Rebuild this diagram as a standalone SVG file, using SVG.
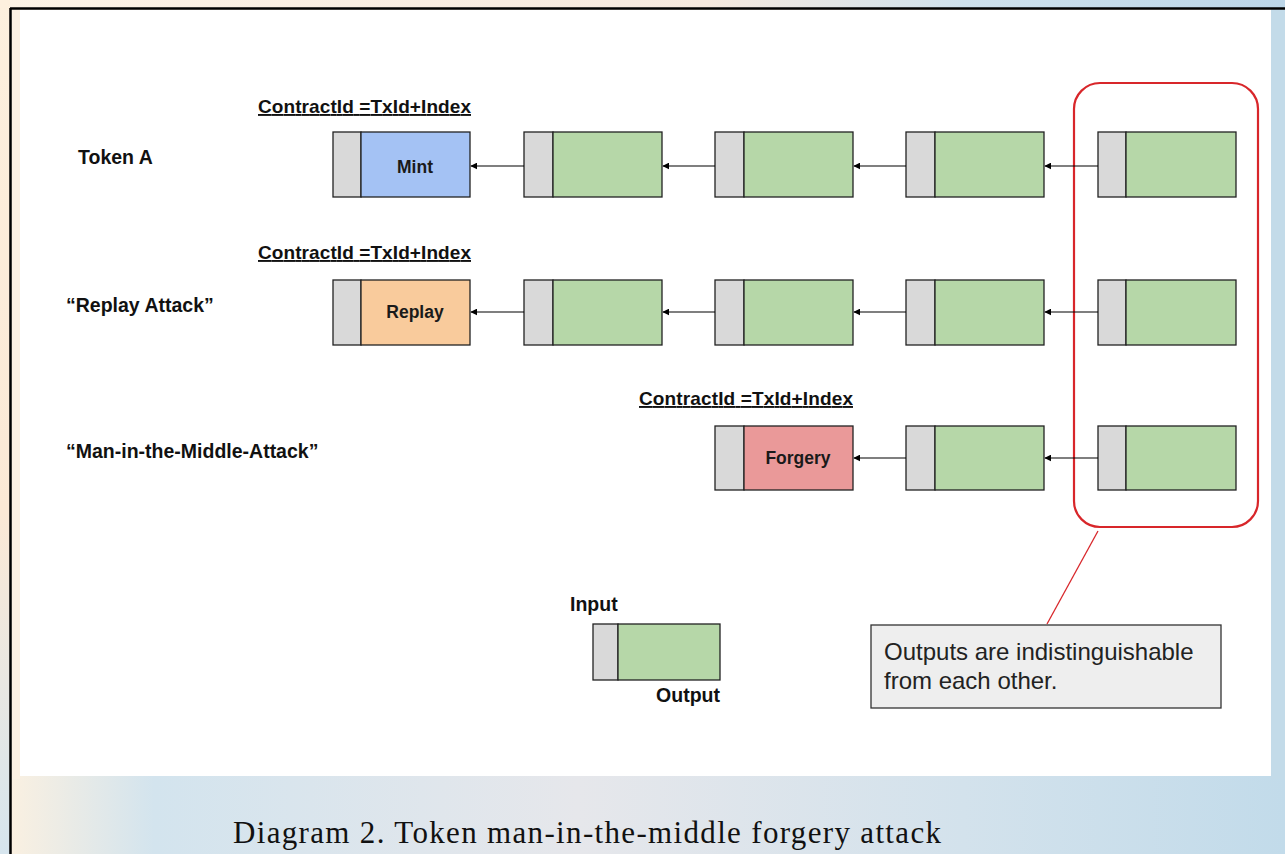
<svg xmlns="http://www.w3.org/2000/svg" width="1285" height="854" viewBox="0 0 1285 854">
  <defs>
    <linearGradient id="bgGrad" x1="0" y1="0" x2="1" y2="0">
      <stop offset="0" stop-color="#fdf1e0"/>
      <stop offset="0.12" stop-color="#d3e4ee"/>
      <stop offset="0.45" stop-color="#e6e7eb"/>
      <stop offset="0.75" stop-color="#d3e2ec"/>
      <stop offset="1" stop-color="#c2dbea"/>
    </linearGradient>
    <linearGradient id="topGrad" x1="0" y1="0" x2="1" y2="0">
      <stop offset="0" stop-color="#fdf3e6"/>
      <stop offset="0.55" stop-color="#f6e9de"/>
      <stop offset="0.75" stop-color="#cfe1ec"/>
      <stop offset="1" stop-color="#bcd6e8"/>
    </linearGradient>
    <linearGradient id="leftGrad" x1="0" y1="0" x2="0" y2="1">
      <stop offset="0" stop-color="#fdf0de"/>
      <stop offset="0.6" stop-color="#fbe9d6"/>
      <stop offset="1" stop-color="#d6e5ee"/>
    </linearGradient>
    <marker id="arrow" viewBox="0 0 10 10" refX="9" refY="5" markerWidth="7" markerHeight="7" orient="auto" markerUnits="userSpaceOnUse">
      <path d="M0,0 L10,5 L0,10 z" fill="#000"/>
    </marker>
    <style>
      .inp { fill: #d9d9d9; stroke: #222; stroke-width: 1.3; }
      .out { stroke: #222; stroke-width: 1.3; }
      .green { fill: #b6d7a8; }
      .blue { fill: #a4c2f4; }
      .orange { fill: #f9cb9c; }
      .red { fill: #ea9999; }
      .lbl { font-family: "Liberation Sans", Arial, sans-serif; font-weight: bold; font-size: 19.5px; fill: #111; }
      .cid { font-family: "Liberation Sans", Arial, sans-serif; font-weight: bold; font-size: 19px; fill: #111; text-decoration: underline; }
      .box { font-family: "Liberation Sans", Arial, sans-serif; font-weight: bold; font-size: 17.5px; fill: #1a1a1a; text-anchor: middle; }
      .conn { stroke: #000; stroke-width: 1.2; fill: none; marker-end: url(#arrow); }
      .note { font-family: "Liberation Sans", Arial, sans-serif; font-size: 24px; fill: #222; }
    </style>
  </defs>

  <!-- page background -->
  <rect x="0" y="0" width="1285" height="854" fill="url(#bgGrad)"/>
  <rect x="0" y="0" width="1285" height="8" fill="url(#topGrad)"/>
  <rect x="0" y="0" width="10" height="854" fill="url(#leftGrad)"/>
  <rect x="11" y="9" width="1274" height="4" fill="#fbf0e4"/>
  <rect x="11" y="9" width="9" height="770" fill="#fcf0e2"/>
  <rect x="1271" y="9" width="14" height="770" fill="#c3dbe9"/>

  <!-- frame lines -->
  <line x1="10" y1="8.5" x2="1285" y2="8.5" stroke="#000" stroke-width="2.5"/>
  <line x1="10.5" y1="8" x2="10.5" y2="854" stroke="#000" stroke-width="2.5"/>

  <!-- white drawing panel -->
  <rect x="20" y="10" width="1251" height="766" fill="#ffffff"/>

  <!-- row labels -->
  <g id="labels">
    <text class="lbl" x="78" y="164">Token A</text>
    <text class="lbl" x="66" y="312">“Replay Attack”</text>
    <text class="lbl" x="66" y="458">“Man-in-the-Middle-Attack”</text>
    <text class="cid" x="258" y="113" textLength="213">ContractId =TxId+Index</text>
    <text class="cid" x="258" y="259" textLength="213">ContractId =TxId+Index</text>
    <text class="cid" x="639" y="405" textLength="214">ContractId =TxId+Index</text>
  </g>

  <!-- grouping of indistinguishable outputs -->
  <g id="outputs-group">
    <rect x="1074" y="83" width="184" height="444" rx="26" ry="26" fill="none" stroke="#d8262a" stroke-width="2.2"/>
  </g>

  <!-- row 1: Token A -->
  <g id="a1"><rect class="inp" x="333" y="132" width="28" height="65"/><rect class="out blue" x="361" y="132" width="109" height="65"/><text class="box" x="415" y="173">Mint</text></g>
  <g id="a2"><rect class="inp" x="524" y="132" width="29" height="65"/><rect class="out green" x="553" y="132" width="109" height="65"/></g>
  <g id="a3"><rect class="inp" x="715" y="132" width="29" height="65"/><rect class="out green" x="744" y="132" width="109" height="65"/></g>
  <g id="a4"><rect class="inp" x="906" y="132" width="29" height="65"/><rect class="out green" x="935" y="132" width="109" height="65"/></g>
  <g id="a5"><rect class="inp" x="1098" y="132" width="28" height="65"/><rect class="out green" x="1126" y="132" width="110" height="65"/></g>

  <!-- row 2: replay -->
  <g id="b1"><rect class="inp" x="333" y="280" width="28" height="65"/><rect class="out orange" x="361" y="280" width="109" height="65"/><text class="box" x="415" y="318">Replay</text></g>
  <g id="b2"><rect class="inp" x="524" y="280" width="29" height="65"/><rect class="out green" x="553" y="280" width="109" height="65"/></g>
  <g id="b3"><rect class="inp" x="715" y="280" width="29" height="65"/><rect class="out green" x="744" y="280" width="109" height="65"/></g>
  <g id="b4"><rect class="inp" x="906" y="280" width="29" height="65"/><rect class="out green" x="935" y="280" width="109" height="65"/></g>
  <g id="b5"><rect class="inp" x="1098" y="280" width="28" height="65"/><rect class="out green" x="1126" y="280" width="110" height="65"/></g>

  <!-- row 3: man in the middle -->
  <g id="c1"><rect class="inp" x="715" y="426" width="29" height="64"/><rect class="out red" x="744" y="426" width="109" height="64"/><text class="box" x="798" y="464">Forgery</text></g>
  <g id="c2"><rect class="inp" x="906" y="426" width="29" height="64"/><rect class="out green" x="935" y="426" width="109" height="64"/></g>
  <g id="c3"><rect class="inp" x="1098" y="426" width="28" height="64"/><rect class="out green" x="1126" y="426" width="110" height="64"/></g>

  <!-- connectors -->
  <g id="connectors">
    <line class="conn" x1="524" y1="166" x2="471" y2="166"/>
    <line class="conn" x1="715" y1="166" x2="663" y2="166"/>
    <line class="conn" x1="906" y1="166" x2="854" y2="166"/>
    <line class="conn" x1="1098" y1="166" x2="1045" y2="166"/>
    <line class="conn" x1="524" y1="312" x2="471" y2="312"/>
    <line class="conn" x1="715" y1="312" x2="663" y2="312"/>
    <line class="conn" x1="906" y1="312" x2="854" y2="312"/>
    <line class="conn" x1="1098" y1="312" x2="1045" y2="312"/>
    <line class="conn" x1="906" y1="458" x2="854" y2="458"/>
    <line class="conn" x1="1098" y1="458" x2="1045" y2="458"/>
    <line x1="1047" y1="624" x2="1098" y2="531" stroke="#d8262a" stroke-width="1.3"/>
  </g>

  <!-- callout -->
  <g id="callout">
    <rect x="871" y="625" width="350" height="83" fill="#eeeeee" stroke="#333" stroke-width="1.3"/>
    <text class="note" x="884" y="660">Outputs are indistinguishable</text>
    <text class="note" x="884" y="689">from each other.</text>
  </g>

  <!-- legend -->
  <g id="legend">
    <text class="lbl" x="570" y="611">Input</text>
    <rect class="inp" x="593" y="624" width="25" height="56"/>
    <rect class="out green" x="618" y="624" width="102" height="56"/>
    <text class="lbl" x="720" y="702" text-anchor="end">Output</text>
  </g>

  <!-- caption -->
  <text x="233" y="843" font-family="'Liberation Serif', 'DejaVu Serif', serif" font-size="31" fill="#111" textLength="708" lengthAdjust="spacing">Diagram 2. Token man-in-the-middle forgery attack</text>
</svg>
